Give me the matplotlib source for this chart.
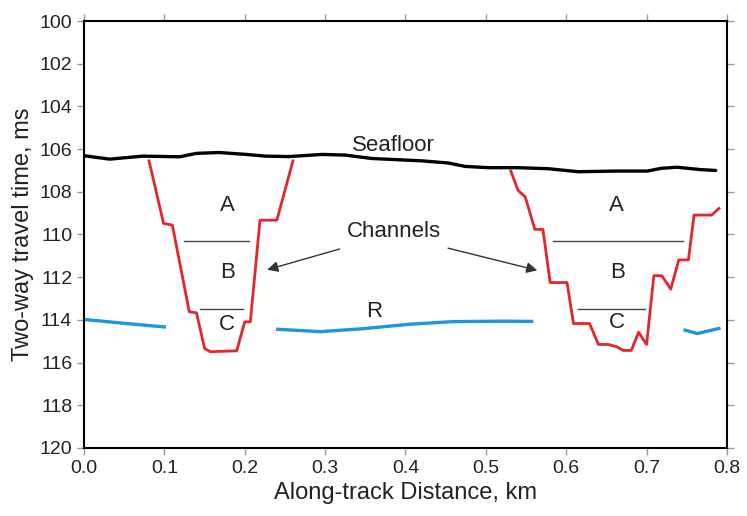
import matplotlib
matplotlib.use("Agg")
import matplotlib.pyplot as plt

plt.rcParams['font.family'] = ['Liberation Sans', 'DejaVu Sans']

# seafloor reflector (km, ms)
seafloor_x = [0.0, 0.032, 0.073, 0.119, 0.140, 0.168, 0.202, 0.226, 0.255, 0.296,
              0.325, 0.358, 0.420, 0.453, 0.474, 0.503, 0.540, 0.578, 0.615, 0.660,
              0.701, 0.718, 0.738, 0.767, 0.786]
seafloor_t = [106.31, 106.47, 106.33, 106.36, 106.20, 106.16, 106.25, 106.33, 106.35, 106.25,
              106.28, 106.44, 106.55, 106.65, 106.81, 106.87, 106.87, 106.92, 107.06, 107.03,
              107.03, 106.90, 106.85, 106.96, 107.00]

# reflector R, three segments
r1_x = [0.0, 0.053, 0.100]
r1_t = [113.98, 114.17, 114.33]
r2_x = [0.241, 0.294, 0.348, 0.406, 0.460, 0.522, 0.557]
r2_t = [114.44, 114.55, 114.41, 114.20, 114.08, 114.06, 114.07]
r3_x = [0.748, 0.763, 0.790]
r3_t = [114.48, 114.64, 114.40]

# channel outlines
ch1_x = [0.081, 0.099, 0.110, 0.131, 0.140, 0.150, 0.157, 0.190, 0.200, 0.207,
         0.219, 0.240, 0.260]
ch1_t = [106.55, 109.48, 109.56, 113.62, 113.67, 115.33, 115.49, 115.45, 114.09, 114.09,
         109.33, 109.33, 106.55]
ch2_x = [0.531, 0.540, 0.549, 0.561, 0.571, 0.580, 0.601, 0.609, 0.629, 0.640,
         0.652, 0.663, 0.671, 0.681, 0.690, 0.700, 0.709, 0.719, 0.730, 0.740,
         0.752, 0.759, 0.781, 0.790]
ch2_t = [107.02, 107.93, 108.24, 109.76, 109.76, 112.25, 112.25, 114.17, 114.17, 115.15,
         115.15, 115.26, 115.43, 115.43, 114.58, 115.15, 111.93, 111.93, 112.56, 111.19,
         111.19, 109.09, 109.09, 108.78]

# unit boundaries inside channels: (x0, x1, t)
unit_lines = [(0.125, 0.205, 110.29), (0.144, 0.198, 113.49),
              (0.584, 0.745, 110.29), (0.615, 0.698, 113.47)]
unit_labels = [("A", 0.178, 108.62), ("B", 0.179, 111.78), ("C", 0.178, 114.2),
               ("A", 0.663, 108.62), ("B", 0.664, 111.78), ("C", 0.663, 114.14)]

fig = plt.figure(figsize=(7.47, 5.16), dpi=100)
ax = fig.add_axes([0.1124, 0.1318, 0.8608, 0.8275])

ax.plot(seafloor_x, seafloor_t, color='black', lw=2.4, solid_capstyle='round')
for xs, ts in [(r1_x, r1_t), (r2_x, r2_t), (r3_x, r3_t)]:
    ax.plot(xs, ts, color='#1c96dc', lw=2.4)
ax.plot(ch1_x, ch1_t, color='#e3262a', lw=2.0)
ax.plot(ch2_x, ch2_t, color='#e3262a', lw=2.0)

for x0, x1, t in unit_lines:
    ax.plot([x0, x1], [t, t], color='#444444', lw=1.0)
for s, x, t in unit_labels:
    ax.text(x, t, s, fontsize=16, ha='center', va='center', color='#222222')

ax.text(0.385, 105.82, "Seafloor", fontsize=16, ha='center', va='center', color='#222222')
ax.text(0.361, 113.62, "R", fontsize=16, ha='center', va='center', color='#222222')
ax.text(0.386, 109.86, "Channels", fontsize=16, ha='center', va='center', color='#222222')

arrow = dict(arrowstyle='-|>', color='#333333', lw=1.0, mutation_scale=16, shrinkA=0, shrinkB=0)
ax.annotate("", xy=(0.228, 111.65), xytext=(0.318, 110.68), arrowprops=arrow)
ax.annotate("", xy=(0.564, 111.68), xytext=(0.453, 110.64), arrowprops=arrow)

ax.set_xlim(0, 0.8)
ax.set_ylim(120, 100)
ax.set_xticks([0.0, 0.1, 0.2, 0.3, 0.4, 0.5, 0.6, 0.7, 0.8])
ax.set_yticks(range(100, 121, 2))
ax.tick_params(direction='out', length=5, width=1, color='#999999', labelsize=14,
               top=True, right=True, labelcolor='#222222')
for sp in ax.spines.values():
    sp.set_linewidth(1.5)

ax.set_xlabel("Along-track Distance, km", fontsize=17, color='#222222', labelpad=4)
ax.set_ylabel("Two-way travel time, ms", fontsize=17, color='#222222', labelpad=4)

fig.savefig("out.png", dpi=100)
